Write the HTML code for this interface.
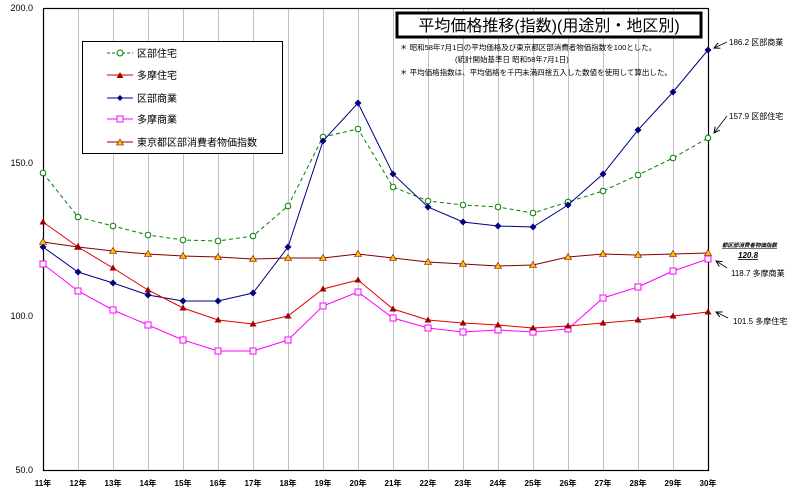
<!DOCTYPE html>
<html><head><meta charset="utf-8"><style>body{margin:0;background:#fff}svg{display:block}text{font-family:"Liberation Sans","Noto Sans CJK JP",sans-serif}</style></head><body>
<svg width="800" height="500" viewBox="0 0 800 500" xmlns="http://www.w3.org/2000/svg">
<defs>
<marker id="ar" markerWidth="7" markerHeight="7" refX="6" refY="3" orient="auto" markerUnits="userSpaceOnUse"><path d="M0,0 L6,3 L0,6" fill="none" stroke="#000" stroke-width="1"/></marker>
</defs>
<g stroke="#c0c0c0" stroke-width="1" id="grid"></g>
<rect x="43.5" y="8.5" width="665" height="462" fill="none" stroke="#000" stroke-width="1.2"/>
<g font-size="9" fill="#000" text-anchor="end">
<text x="33" y="11">200.0</text><text x="33" y="166">150.0</text><text x="33" y="319">100.0</text><text x="33" y="473">50.0</text>
</g>
<g id="xl" font-size="8" font-weight="bold" text-anchor="middle"></g>
<g id="series"></g>
<rect x="397" y="13" width="304" height="24" fill="#fff" stroke="#000" stroke-width="3"/>
<text x="549" y="31" font-size="16" text-anchor="middle">平均価格推移(指数)(用途別・地区別)</text>
<g font-size="7.5">
<text x="400" y="50">＊ 昭和58年7月1日の平均価格及び東京都区部消費者物価指数を100とした。</text>
<text x="455" y="62">(統計開始基準日 昭和58年7月1日)</text>
<text x="400" y="75">＊ 平均価格指数は、平均価格を千円未満四捨五入した数値を使用して算出した。</text>
</g>
<rect x="82.5" y="41.5" width="200" height="112" fill="#fff" stroke="#000" stroke-width="1"/>
<g font-size="10">
<line x1="107" y1="53" x2="133" y2="53" stroke="#008000" stroke-dasharray="3,2"/><circle cx="120" cy="53" r="3" fill="#fff" stroke="#008000"/><text x="137" y="57">区部住宅</text>
<line x1="107" y1="75" x2="133" y2="75" stroke="#c00000"/><path d="M120,72 L123.5,78 L116.5,78Z" fill="#a00000"/><text x="137" y="79">多摩住宅</text>
<line x1="107" y1="98" x2="133" y2="98" stroke="#000080"/><path d="M120,95 L123,98 L120,101 L117,98Z" fill="#000080"/><text x="137" y="102">区部商業</text>
<line x1="107" y1="119" x2="133" y2="119" stroke="#ff00ff"/><rect x="117" y="116" width="6" height="6" fill="#fff" stroke="#ff00ff"/><text x="137" y="123">多摩商業</text>
<line x1="107" y1="142" x2="133" y2="142" stroke="#800000"/><path d="M120,139 L123.5,145 L116.5,145Z" fill="#ffc000" stroke="#800000" stroke-width="0.6"/><text x="137" y="146">東京都区部消費者物価指数</text>
</g>
<g font-size="8" stroke="none">
<text x="729" y="45">186.2 区部商業</text>
<text x="729" y="119">157.9 区部住宅</text>
<text x="722" y="247" font-size="5.5" font-style="italic" text-decoration="underline" font-weight="bold">都区部消費者物価指数</text>
<text x="738" y="258" font-size="8" font-style="italic" text-decoration="underline" font-weight="bold">120.8</text>
<text x="731" y="276">118.7 多摩商業</text>
<text x="733" y="324">101.5 多摩住宅</text>
</g>
<g stroke="#000" stroke-width="0.8" marker-end="url(#ar)">
<line x1="727" y1="42" x2="714" y2="48"/>
<line x1="727" y1="116" x2="714" y2="133"/>
<line x1="727" y1="268" x2="716" y2="261"/>
<line x1="728" y1="318" x2="716" y2="312"/>
</g>
<script>
var NS="http://www.w3.org/2000/svg";
function el(t,a,p){var e=document.createElementNS(NS,t);for(var k in a)e.setAttribute(k,a[k]);(p||document.getElementById('series')).appendChild(e);return e;}
var g=document.getElementById('grid'),xl=document.getElementById('xl');
for(var i=0;i<20;i++){var x=43.5+35*i;if(i>0&&i<19)el('line',{x1:x,y1:9,x2:x,y2:470},g);
var t=el('text',{x:43+35*i,y:486},xl);t.textContent=(11+i)+'年';}
var S=[
{c:'#008000',d:'4,3',m:'o',y:[173,217,226,235,240,241,236,206,137,129,187,201,205,207,213,202,191,175,158,138]},
{c:'#000080',d:'',m:'d',y:[247,272,283,295,301,301,293,247,141,103,174,207,222,226,227,205,174,130,92,50]},
{c:'#800000',d:'',m:'t2',y:[242,247,251,254,256,257,259,258,258,254,258,262,264,266,265,257,254,255,254,253]},
{c:'#ff00ff',d:'',m:'s',y:[264,291,310,325,340,351,351,340,306,292,318,328,332,330,332,329,298,287,271,259]},
{c:'#e00000',d:'',m:'t',y:[222,247,268,290,308,320,324,316,289,280,309,320,323,325,328,326,323,320,316,312]}
];
S.forEach(function(s){var p=s.y.map(function(v,i){return (43+35*i)+','+v;}).join(' ');
el('polyline',{points:p,fill:'none',stroke:s.c,'stroke-width':1,'stroke-dasharray':s.d});
s.y.forEach(function(v,i){var x=43+35*i;
if(s.m=='o')el('circle',{cx:x,cy:v,r:2.8,fill:'#fff',stroke:s.c});
if(s.m=='d')el('path',{d:'M'+x+','+(v-3.5)+' L'+(x+3.5)+','+v+' L'+x+','+(v+3.5)+' L'+(x-3.5)+','+v+'Z',fill:s.c});
if(s.m=='s')el('rect',{x:x-3,y:v-3,width:6,height:6,fill:'#fff',stroke:s.c});
if(s.m=='t')el('path',{d:'M'+x+','+(v-3.5)+' L'+(x+3.5)+','+(v+2.5)+' L'+(x-3.5)+','+(v+2.5)+'Z',fill:'#a00000'});
if(s.m=='t2')el('path',{d:'M'+x+','+(v-3.5)+' L'+(x+3.5)+','+(v+2.5)+' L'+(x-3.5)+','+(v+2.5)+'Z',fill:'#ffc000',stroke:'#800000','stroke-width':0.6});
});});
</script>
</svg>
</body></html>
